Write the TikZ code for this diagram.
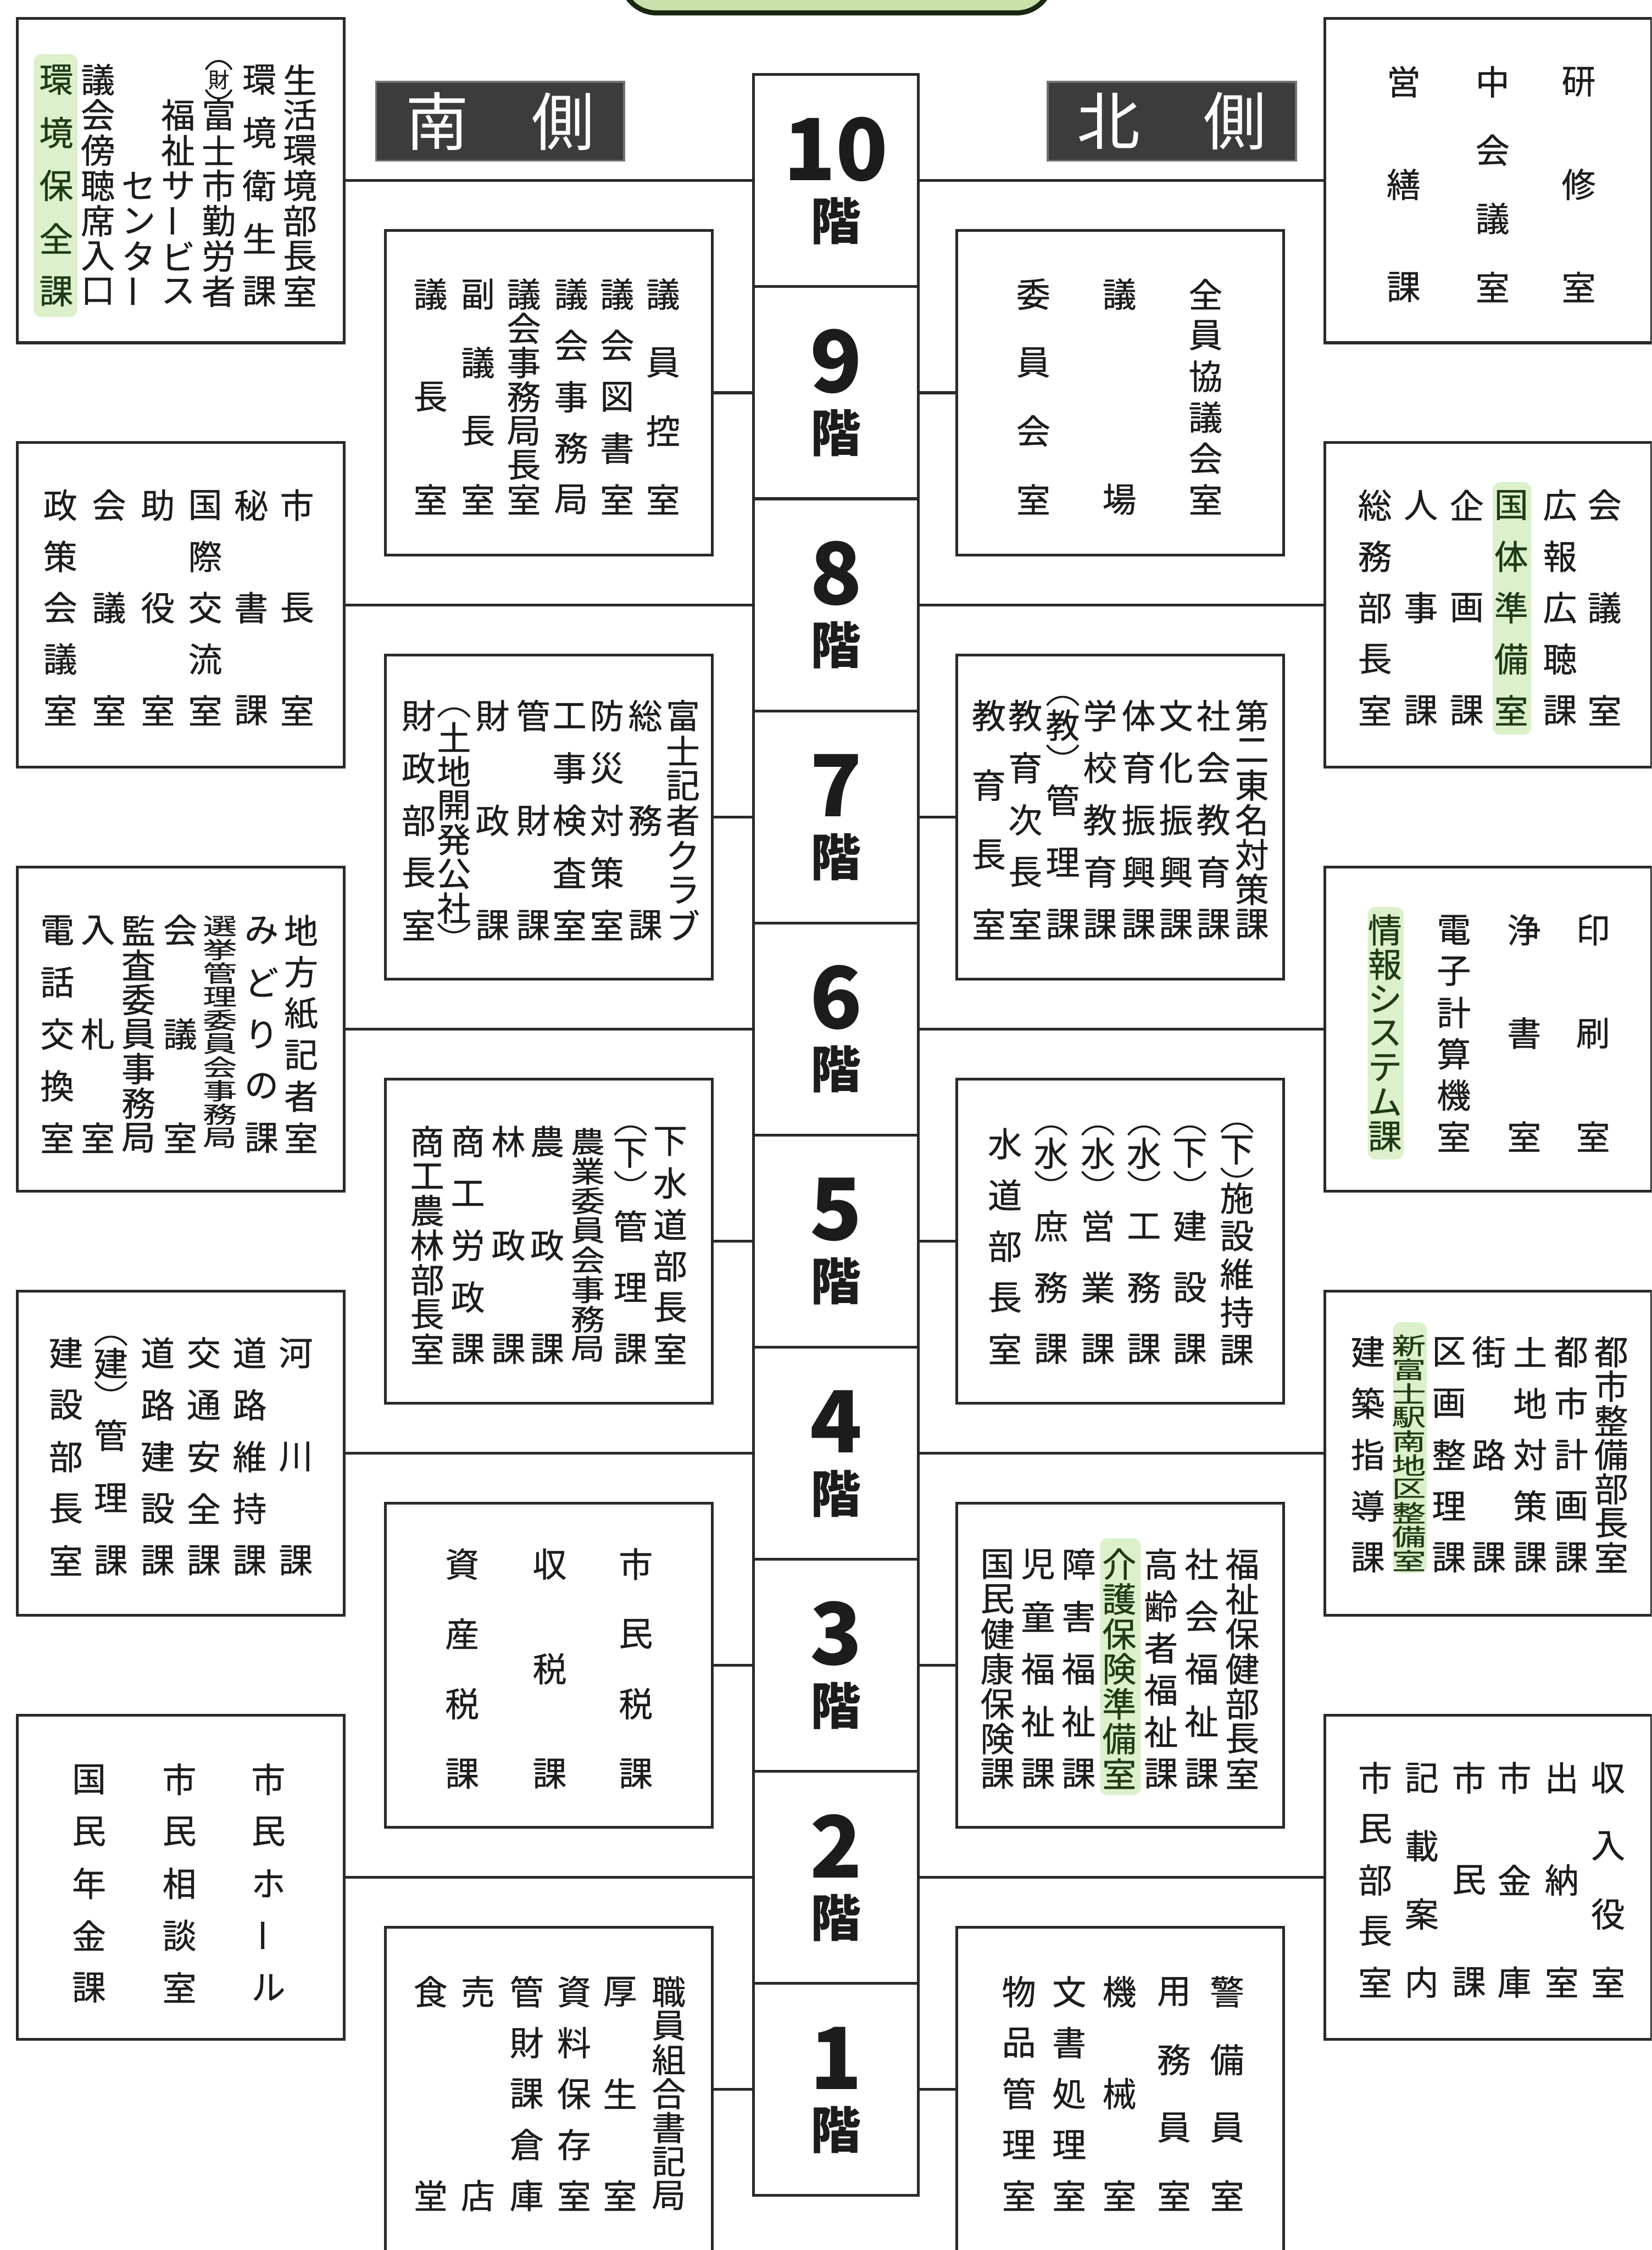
\documentclass[tikz,border=0pt]{standalone}
\usepackage{fontspec}
\setmainfont{Noto Sans CJK JP}
\newfontfamily\jpmid{Noto Sans CJK JP}[FakeBold=0.6]
\usepackage{graphicx}
\usetikzlibrary{positioning}
\definecolor{boxline}{HTML}{2A2A2A}
\definecolor{inkgray}{HTML}{1C1C1C}
\definecolor{headgray}{HTML}{3C3C3C}
\definecolor{hlgreen}{HTML}{DCF0CB}
\definecolor{hltext}{HTML}{1F3A16}
\definecolor{tabgreen}{HTML}{C9E2A9}
\definecolor{tabline}{HTML}{1A2810}

% vertical column of characters, spread evenly from ytop to ybot
\makeatletter
\newcount\vc@n
\def\vc@endmark{\vc@end}
\newcommand\vcol[6][]{%
  \def\vc@sty{#1}\def\vc@id{#2}\def\vc@x{#3}\def\vc@y{#4}%
  \vc@n=0 \vc@count#6\vc@end
  \pgfmathsetmacro\vc@pitch{(#5-#4)/max(\the\vc@n-1,1)}%
  \pgfmathsetmacro\vc@ys{min(1,\vc@pitch/24)}%
  \vc@n=0 \vc@place#6\vc@end}
\def\vc@count#1{\def\vc@arg{#1}\ifx\vc@arg\vc@endmark\else
  \advance\vc@n by 1 \expandafter\vc@count\fi}
\def\vc@place#1{\def\vc@arg{#1}\ifx\vc@arg\vc@endmark\else
  \node[jp,\vc@sty,name=\vc@id-\the\vc@n] at (\vc@x,\vc@y+\the\vc@n*\vc@pitch) {\scalebox{1}[\vc@ys]{#1}};%
  \advance\vc@n by 1 \expandafter\vc@place\fi}
\makeatother
\newcommand\vbar{\rotatebox[origin=c]{90}{ー}}
% bracket arcs above and below a character
\newcommand\parup[3]{\draw[parline] (#1-#3,#2+4) .. controls (#1-#3/2,#2-4) and (#1+#3/2,#2-4) .. (#1+#3,#2+4);}
\newcommand\pardown[3]{\draw[parline] (#1-#3,#2-4) .. controls (#1-#3/2,#2+4) and (#1+#3/2,#2+4) .. (#1+#3,#2-4);}
\newcommand\parch[6]{\node[jp] (#1) at (#2,#3) {#4}; \parup{#2}{#3-#5}{#6} \pardown{#2}{#3+#5}{#6}}

\begin{document}
\begin{tikzpicture}[
  x=0.02cm, y=-0.02cm,
  room/.style={draw=boxline, line width=1.1pt, minimum width=4.56cm, minimum height=4.52cm, inner sep=0pt},
  floorcell/.style={draw=boxline, line width=1.1pt, minimum width=2.3cm, minimum height=2.956cm, inner sep=0pt},
  floornum/.style={font=\fontsize{34}{34}\selectfont\bfseries, text=inkgray, inner sep=0pt},
  floorkai/.style={font=\fontsize{20}{20}\selectfont\bfseries, text=inkgray, inner sep=0pt},
  sidehead/.style={fill=headgray, draw=black!55, line width=0.8pt, text=white,
    minimum width=3.46cm, minimum height=1.1cm, font=\fontsize{25}{25}\selectfont},
  link/.style={draw=boxline, line width=1.1pt},
  jp/.style={font=\jpmid\fontsize{13.5}{16}\selectfont, text=inkgray, inner sep=0pt},
  hl/.style={text=hltext},
  parline/.style={draw=inkgray, line width=0.8pt},
]
\useasboundingbox (0,0) rectangle (1151,1568);
\clip (0,0) rectangle (1151,1568);

% title tab, cut by the top edge
\draw[fill=tabgreen, draw=tabline, line width=2pt, rounded corners=14pt] (433,-40) rectangle (733,9);

% side headings
\node[sidehead] (south) at (348.5,84.5) {南\hspace{1em}側};
\node[sidehead] (north) at (816.5,84.5) {北\hspace{1em}側};

% floor column
\node[floorcell] (f10) at (582.5,125.9) {};
\node[floorcell] (f9) at (582.5,273.7) {};
\node[floorcell] (f8) at (582.5,421.5) {};
\node[floorcell] (f7) at (582.5,569.3) {};
\node[floorcell] (f6) at (582.5,717.1) {};
\node[floorcell] (f5) at (582.5,864.9) {};
\node[floorcell] (f4) at (582.5,1012.7) {};
\node[floorcell] (f3) at (582.5,1160.5) {};
\node[floorcell] (f2) at (582.5,1308.3) {};
\node[floorcell] (f1) at (582.5,1456.1) {};

\node[floornum] (f10num) at (582.5,104) {10};
\node[floorkai] (f10kai) at (582.5,154) {階};
\node[floornum] (f9num) at (582.5,251.8) {9};
\node[floorkai] (f9kai) at (582.5,301.8) {階};
\node[floornum] (f8num) at (582.5,399.6) {8};
\node[floorkai] (f8kai) at (582.5,449.6) {階};
\node[floornum] (f7num) at (582.5,547.4) {7};
\node[floorkai] (f7kai) at (582.5,597.4) {階};
\node[floornum] (f6num) at (582.5,695.2) {6};
\node[floorkai] (f6kai) at (582.5,745.2) {階};
\node[floornum] (f5num) at (582.5,843) {5};
\node[floorkai] (f5kai) at (582.5,893) {階};
\node[floornum] (f4num) at (582.5,990.8) {4};
\node[floorkai] (f4kai) at (582.5,1040.8) {階};
\node[floornum] (f3num) at (582.5,1138.6) {3};
\node[floorkai] (f3kai) at (582.5,1188.6) {階};
\node[floornum] (f2num) at (582.5,1286.4) {2};
\node[floorkai] (f2kai) at (582.5,1336.4) {階};
\node[floornum] (f1num) at (582.5,1434.2) {1};
\node[floorkai] (f1kai) at (582.5,1484.2) {階};

% room boxes - south side
\node[room] (s10) at (126,125.9) {};
\node[room] (s9) at (382.5,273.7) {};
\node[room] (s8) at (126,421.5) {};
\node[room] (s7) at (382.5,569.3) {};
\node[room] (s6) at (126,717.1) {};
\node[room] (s5) at (382.5,864.9) {};
\node[room] (s4) at (126,1012.7) {};
\node[room] (s3) at (382.5,1160.5) {};
\node[room] (s2) at (126,1308.3) {};
\node[room] (s1) at (382.5,1456.1) {};

% room boxes - north side
\node[room] (n10) at (1037,125.9) {};
\node[room] (n9) at (780.5,273.7) {};
\node[room] (n8) at (1037,421.5) {};
\node[room] (n7) at (780.5,569.3) {};
\node[room] (n6) at (1037,717.1) {};
\node[room] (n5) at (780.5,864.9) {};
\node[room] (n4) at (1037,1012.7) {};
\node[room] (n3) at (780.5,1160.5) {};
\node[room] (n2) at (1037,1308.3) {};
\node[room] (n1) at (780.5,1456.1) {};

% connectors
\draw[link] (s10) -- (f10);  \draw[link] (f10) -- (n10);
\draw[link] (s9) -- (f9);    \draw[link] (f9) -- (n9);
\draw[link] (s8) -- (f8);    \draw[link] (f8) -- (n8);
\draw[link] (s7) -- (f7);    \draw[link] (f7) -- (n7);
\draw[link] (s6) -- (f6);    \draw[link] (f6) -- (n6);
\draw[link] (s5) -- (f5);    \draw[link] (f5) -- (n5);
\draw[link] (s4) -- (f4);    \draw[link] (f4) -- (n4);
\draw[link] (s3) -- (f3);    \draw[link] (f3) -- (n3);
\draw[link] (s2) -- (f2);    \draw[link] (f2) -- (n2);
\draw[link] (s1) -- (f1);    \draw[link] (f1) -- (n1);

% green highlights
\fill[hlgreen, rounded corners=3pt] (23.5,37.7) rectangle (54,221);
\fill[hlgreen, rounded corners=3pt] (1040,336) rectangle (1067,512);
\fill[hlgreen, rounded corners=3pt] (953,632) rectangle (978,808);
\fill[hlgreen, rounded corners=3pt] (970.7,921.5) rectangle (994.2,1096.3);
\fill[hlgreen, rounded corners=3pt] (766.5,1072) rectangle (794.9,1251);

% 10F
\vcol{s10a}{209}{55.5}{203}{生活環境部長室}
\vcol{s10b}{180.7}{55.5}{203}{環境衛生課}
\parch{s10par}{152.4}{55.5}{\scalebox{0.62}{財}}{11}{9}
\vcol{s10c}{152.4}{55.5}{203}{　富士市勤労者}
\vcol{s10d}{124.1}{55.5}{203}{　福祉サ\vbar ビス}
\vcol{s10e}{96.5}{55.5}{203}{　　　センタ\vbar}
\vcol{s10f}{68.2}{55.5}{203}{議会傍聴席入口}
\vcol[hl]{s10g}{39.2}{55.5}{203}{環境保全課}
\vcol{n10a}{978}{57}{200}{営繕課}
\vcol{n10b}{1040}{57}{200}{中会議室}
\vcol{n10c}{1100}{57}{200}{研修室}

% 9F
\vcol{s9a}{300}{205}{348}{議長室}
\vcol{s9b}{333}{205}{348}{副議長室}
\vcol{s9c}{365}{205}{348}{議会事務局長室}
\vcol{s9d}{398}{205}{348}{議会事務局}
\vcol{s9e}{430}{205}{348}{議会図書室}
\vcol{s9f}{462}{205}{348}{議員控室}
\vcol{n9a}{720}{205}{348}{委員会室}
\vcol{n9b}{780}{205}{348}{議場}
\vcol{n9c}{840}{205}{348}{全員協議会室}

% 8F
\vcol{s8a}{42}{352}{495}{政策会議室}
\vcol{s8b}{76}{352}{495}{会　議　室}
\vcol{s8c}{110}{352}{495}{助　役　室}
\vcol{s8d}{143}{352}{495}{国際交流室}
\vcol{s8e}{175}{352}{495}{秘　書　課}
\vcol{s8f}{207}{352}{495}{市　長　室}
\vcol{n8a}{958}{352}{495}{総務部長室}
\vcol{n8b}{990}{352}{495}{人　事　課}
\vcol{n8c}{1022}{352}{495}{企　画　課}
\vcol[hl]{n8d}{1053}{352}{495}{国体準備室}
\vcol{n8e}{1087}{352}{495}{広報広聴課}
\vcol{n8f}{1118}{352}{495}{会　議　室}

% 7F
\vcol{s7a}{291.7}{498.7}{644.7}{財政部長室}
\parup{316.3}{495.7}{11}
\vcol{s7b}{316.3}{513.6}{632.8}{土地開発公社}
\pardown{316.3}{647.7}{11}
\vcol{s7c}{343.2}{498.7}{644.7}{財　政　課}
\vcol{s7d}{371.5}{498.7}{644.7}{管　財　課}
\vcol{s7e}{396.8}{498.7}{644.7}{工事検査室}
\vcol{s7f}{422.9}{498.7}{644.7}{防災対策室}
\vcol{s7g}{449.7}{498.7}{644.7}{総　務　課}
\vcol{s7h}{475.8}{498.7}{644.7}{富士記者クラブ}
\vcol{n7a}{689}{498.7}{644}{教育長室}
\vcol{n7b}{714.4}{498.7}{644}{教育次長室}
\parch{n7par}{740.5}{505.4}{教}{17.8}{11}
\vcol{n7c}{740.5}{557.6}{644}{管理課}
\vcol{n7d}{766.5}{498.7}{644}{学校教育課}
\vcol{n7e}{793.4}{498.7}{644}{体育振興課}
\vcol{n7f}{819.4}{498.7}{644}{文化振興課}
\vcol{n7g}{845.5}{498.7}{644}{社会教育課}
\vcol{n7h}{872.3}{498.7}{644}{第二東名対策課}

% 6F
\vcol{s6a}{39.9}{648.3}{792.9}{電話交換室}
\vcol{s6b}{68.2}{648.3}{792.9}{入　札　室}
\vcol{s6c}{96.5}{648.3}{792.9}{監査委員事務局}
\vcol{s6d}{125.6}{648.3}{792.9}{会　議　室}
\vcol{s6e}{153.2}{645.3}{792.9}{選挙管理委員会事務局}
\vcol{s6f}{182.2}{648.3}{792.9}{みどりの課}
\vcol{s6g}{209.8}{648.3}{792.9}{地方紙記者室}
\vcol[hl]{n6a}{965}{648}{792}{情報システム課}
\vcol{n6b}{1013}{648}{792}{電子計算機室}
\vcol{n6c}{1062}{648}{792}{浄　書　室}
\vcol{n6d}{1110}{648}{792}{印　刷　室}

% 5F
\vcol{s5a}{297.7}{795.5}{940}{商工農林部長室}
\vcol{s5b}{326}{795.5}{940}{商工労政課}
\vcol{s5c}{354.3}{795.5}{940}{林　政　課}
\vcol{s5d}{381.3}{795.5}{940}{農　政　課}
\vcol{s5e}{409.6}{795.5}{940}{農業委員会事務局}
\parch{s5par}{439.3}{803.7}{下}{16.7}{11}
\vcol{s5f}{439.3}{854.4}{940}{管理課}
\vcol{s5g}{467}{795.5}{940}{下水道部長室}
\vcol{n5a}{700.2}{797}{940}{水道部長室}
\parch{n5par1}{732.3}{803.7}{水}{16.7}{11}
\vcol{n5b}{732.3}{854.4}{940}{庶務課}
\parch{n5par2}{765}{803.7}{水}{16.7}{11}
\vcol{n5c}{765}{854.4}{940}{営業課}
\parch{n5par3}{797.1}{803.7}{水}{16.7}{11}
\vcol{n5d}{797.1}{854.4}{940}{工務課}
\parch{n5par4}{829.1}{803.7}{下}{16.7}{11}
\vcol{n5e}{829.1}{854.4}{940}{建設課}
\parch{n5par5}{861.9}{801.5}{下}{16.5}{11}
\vcol{n5f}{861.9}{835}{940.8}{施設維持課}

% 4F
\vcol{s4a}{45.9}{942.8}{1087.4}{建設部長室}
\parch{s4par}{77.2}{950.2}{建}{16.7}{11}
\vcol{s4b}{77.2}{1000.2}{1087.4}{管理課}
\vcol{s4c}{109.9}{942.8}{1087.4}{道路建設課}
\vcol{s4d}{142}{942.8}{1087.4}{交通安全課}
\vcol{s4e}{174}{942.8}{1087.4}{道路維持課}
\vcol{s4f}{206.1}{942.8}{1087.4}{河　川　課}
\vcol{n4a}{953.1}{942.1}{1085.3}{建築指導課}
\vcol[hl]{n4b}{981.7}{937.7}{1087.5}{新富士駅南地区整備室}
\vcol{n4c}{1009.6}{942.1}{1085.3}{区画整理課}
\vcol{n4d}{1037.5}{942.1}{1085.3}{街　路　課}
\vcol{n4e}{1066.2}{942.1}{1085.3}{土地対策課}
\vcol{n4f}{1094.8}{942.1}{1085.3}{都市計画課}
\vcol{n4g}{1122.7}{942.1}{1085.3}{都市整備部長室}

% 3F
\vcol{s3a}{322}{1090}{1236}{資産税課}
\vcol{s3b}{383}{1090}{1236}{収税課}
\vcol{s3c}{443}{1090}{1236}{市民税課}
\vcol{n3a}{695}{1090}{1236}{国民健康保険課}
\vcol{n3b}{723.3}{1090}{1236}{児童福祉課}
\vcol{n3c}{751.6}{1090}{1236}{障害福祉課}
\vcol[hl]{n3d}{779.9}{1090}{1236}{介護保険準備室}
\vcol{n3e}{809}{1090}{1236}{高齢者福祉課}
\vcol{n3f}{837.3}{1090}{1236}{社会福祉課}
\vcol{n3g}{865.6}{1090}{1236}{福祉保健部長室}

% 2F
\vcol{s2a}{62}{1240}{1385}{国民年金課}
\vcol{s2b}{125}{1240}{1385}{市民相談室}
\vcol{s2c}{187}{1240}{1385}{市民ホ\vbar ル}
\vcol{n2a}{958.2}{1238.9}{1381.3}{市民部長室}
\vcol{n2b}{990.6}{1238.9}{1381.3}{記載案内}
\vcol{n2c}{1023.6}{1238.9}{1381.3}{市　民　課}
\vcol{n2d}{1055.2}{1238.9}{1381.3}{市　金　庫}
\vcol{n2e}{1088.2}{1238.9}{1381.3}{出　納　室}
\vcol{n2f}{1120.5}{1238.9}{1381.3}{収入役室}

% 1F
\vcol{s1a}{300}{1388}{1530}{食　　　堂}
\vcol{s1b}{333}{1388}{1530}{売　　　店}
\vcol{s1c}{367}{1388}{1530}{管財課倉庫}
\vcol{s1d}{400}{1388}{1530}{資料保存室}
\vcol{s1e}{432}{1388}{1530}{厚　生　室}
\vcol{s1f}{466}{1388}{1530}{職員組合書記局}
\vcol{n1a}{710}{1388}{1530}{物品管理室}
\vcol{n1b}{745}{1388}{1530}{文書処理室}
\vcol{n1c}{780}{1388}{1530}{機　械　室}
\vcol{n1d}{818}{1388}{1530}{用務員室}
\vcol{n1e}{855}{1388}{1530}{警備員室}

\end{tikzpicture}
\end{document}
